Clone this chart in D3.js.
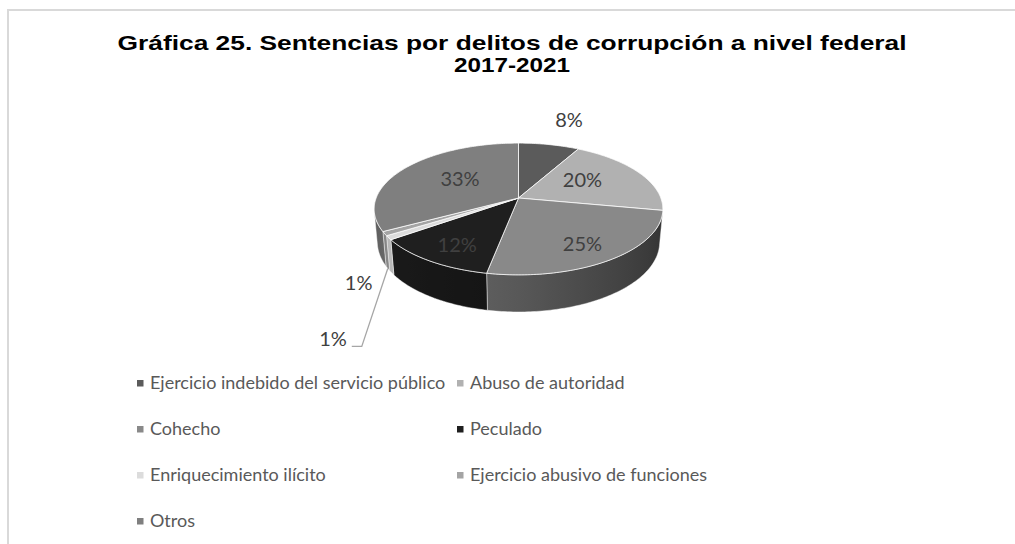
<!DOCTYPE html>
<html>
<head>
<meta charset="utf-8">
<script src="https://cdn.jsdelivr.net/npm/d3@7"></script>
<style>
  html, body { margin: 0; padding: 0; background: #ffffff; }
  svg { display: block; }
</style>
</head>
<body>
<svg id="chart" width="1015" height="544"></svg>
<script>
// ---- Data -------------------------------------------------------------
const titleLines = ["Gráfica 25. Sentencias por delitos de corrupción a nivel federal", "2017-2021"];
const categories = [
  "Ejercicio indebido del servicio público",
  "Abuso de autoridad",
  "Cohecho",
  "Peculado",
  "Enriquecimiento ilícito",
  "Ejercicio abusivo de funciones",
  "Otros"
];
const shares = [8, 20, 25, 12, 1, 1, 33];   // percent of sentences
const sliceColors = ["#5b5b5b", "#b1b1b1", "#898989", "#1f1f1f", "#dcdcdc", "#a4a4a4", "#7f7f7f"];

// ---- Layout -----------------------------------------------------------
const W = 1015, H = 544;
const svg = d3.select("#chart");
const labelFont = "Lato, 'Open Sans', sans-serif";

// frame
svg.append("path")
  .attr("d", `M8,${H} L8,10 L${W},10`)
  .attr("fill", "none").attr("stroke", "#d9d9d9").attr("stroke-width", 2);

// title: two lines, widened to the chart's title box
const titleWidths = [789, 116];
titleLines.forEach((t, i) => {
  svg.append("text")
    .attr("x", 512).attr("y", 50 + i * 22)
    .attr("text-anchor", "middle")
    .attr("font-family", "'Liberation Sans', Arial, sans-serif")
    .attr("font-weight", "bold")
    .attr("font-size", 21)
    .attr("fill", "#000")
    .attr("textLength", titleWidths[i])
    .attr("lengthAdjust", "spacingAndGlyphs")
    .text(t);
});

// ---- 3D pie projection -------------------------------------------------
// A unit disc tilted toward the viewer and seen in perspective.
const cx = 518.5, cy = 198;          // projected pie centre
const sinT = 0.45, cosT = Math.sqrt(1 - sinT * sinT);
const dist = 5.36;                    // camera distance (in radii)
const focal = 763;                    // focal length in px
const depth = 0.263;                  // pie thickness (in radii)

function project(angle, r, h) {
  const x = r * Math.sin(angle), z = r * Math.cos(angle);
  const v = z * sinT + h * cosT;
  const w = dist + z * cosT - h * sinT;
  return [cx + focal * x / w, cy - focal * v / w];
}

const pie = d3.pie().sort(null).value(d => d).startAngle(0).endAngle(2 * Math.PI);
const arcs = pie(shares);
const line = d3.line();

function arcPoints(a0, a1, r, h) {
  const n = Math.max(2, Math.ceil(Math.abs(a1 - a0) / (Math.PI / 180)));
  return d3.range(n + 1).map(i => project(a0 + (a1 - a0) * i / n, r, h));
}

// Outer wall faces the camera where cos(angle) < -1 / (dist * cos tilt)
const visLimit = Math.acos(-1 / (dist * cosT));
const wallFrom = visLimit, wallTo = 2 * Math.PI - visLimit;

// wall shading: brightest toward the lower-left
const shade = d3.scaleLinear()
  .domain([wallFrom, 2.44, Math.PI, 4.10, wallTo])
  .range([0.36, 0.48, 0.64, 0.84, 0.70])
  .clamp(true);

const defs = svg.append("defs");
const pieG = svg.append("g");

// walls
arcs.forEach((a, i) => {
  const a0 = Math.max(a.startAngle, wallFrom), a1 = Math.min(a.endAngle, wallTo);
  if (a0 >= a1) return;
  const top = arcPoints(a0, a1, 1, 0);
  const bottom = arcPoints(a1, a0, 1, -depth);
  const gid = "wall" + i;
  const xA = top[0][0], xB = top[top.length - 1][0];
  const grad = defs.append("linearGradient").attr("id", gid)
    .attr("gradientUnits", "userSpaceOnUse")
    .attr("x1", xA).attr("y1", 0).attr("x2", xB).attr("y2", 0);
  const base = d3.rgb(sliceColors[i]);
  d3.range(9).forEach(k => {
    const ang = a0 + (a1 - a0) * k / 8;
    const px = project(ang, 1, 0)[0];
    const f = shade(ang);
    const c = d3.rgb(base.r * f, base.g * f, base.b * f);
    grad.append("stop")
      .attr("offset", Math.abs(xB - xA) < 1e-6 ? 0 : (px - xA) / (xB - xA))
      .attr("stop-color", c.formatHex());
  });
  pieG.append("path")
    .attr("d", line(top.concat(bottom)) + "Z")
    .attr("fill", `url(#${gid})`)
    .attr("stroke", "#ffffff").attr("stroke-opacity", 0.55).attr("stroke-width", 0.8)
    .attr("stroke-linejoin", "round");
});

// top faces
const centre = project(0, 0, 0);
arcs.forEach((a, i) => {
  const pts = [centre].concat(arcPoints(a.startAngle, a.endAngle, 1, 0));
  pieG.append("path")
    .attr("d", line(pts) + "Z")
    .attr("fill", sliceColors[i])
    .attr("stroke", "#ffffff").attr("stroke-opacity", 0.75).attr("stroke-width", 1)
    .attr("stroke-linejoin", "round");
});

// ---- Data labels -------------------------------------------------------
const fmt = d => d + "%";
const labelG = svg.append("g")
  .attr("font-family", labelFont).attr("font-size", 20).attr("fill", "#404040");

// screen offsets for labels placed outside the pie
const outsideOffset = { 0: [20, -25, "top"], 4: [-33, 10, "bottom"], 5: [-42, 78, "leader"] };

arcs.forEach((a, i) => {
  const mid = (a.startAngle + a.endAngle) / 2;
  if (shares[i] >= 10) {
    // inner labels sit a little further out on the near side of the disc
    const r = 0.62 - 0.16 * Math.cos(mid);
    const p = project(mid + 0.12 * Math.sin(mid) * (Math.cos(mid) > 0 ? -1 : 0.5), r, 0);
    labelG.append("text")
      .attr("x", p[0]).attr("y", p[1]).attr("dy", "0.35em")
      .attr("text-anchor", "middle").text(fmt(shares[i]));
  } else {
    const o = outsideOffset[i];
    const anchor = o[2] === "top" ? project(mid, 1, 0) : project(mid, 1, -depth);
    if (o[2] === "leader") {
      const elbow = [anchor[0] - 26, anchor[1] + o[1]];
      const end = [elbow[0] - 10, elbow[1]];
      svg.append("path")
        .attr("d", line([anchor, elbow, end]))
        .attr("fill", "none").attr("stroke", "#a6a6a6").attr("stroke-width", 1.3);
      labelG.append("text")
        .attr("x", end[0] - 5).attr("y", end[1])
        .attr("text-anchor", "end").text(fmt(shares[i]));
    } else {
      labelG.append("text")
        .attr("x", anchor[0] + o[0]).attr("y", anchor[1] + o[1]).attr("dy", "0.35em")
        .attr("text-anchor", "middle").text(fmt(shares[i]));
    }
  }
});

// ---- Legend ------------------------------------------------------------
const legendCols = [137, 457];
const legendRow0 = 383, legendStep = 46;
const legend = svg.append("g")
  .attr("font-family", labelFont).attr("font-size", 18).attr("fill", "#595959");
categories.forEach((name, i) => {
  const col = i % 2, row = Math.floor(i / 2);
  const x = legendCols[col], y = legendRow0 + row * legendStep;
  legend.append("rect")
    .attr("x", x).attr("y", y - 3).attr("width", 6.5).attr("height", 6.5)
    .attr("fill", sliceColors[i]);
  legend.append("text")
    .attr("x", x + 13).attr("y", y).attr("dy", "0.35em").text(name);
});
</script>
</body>
</html>
